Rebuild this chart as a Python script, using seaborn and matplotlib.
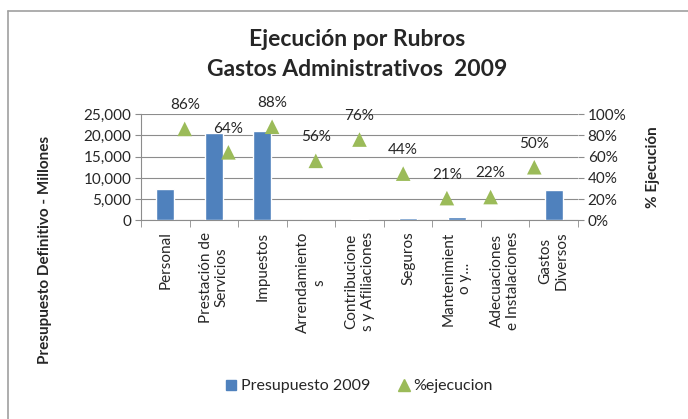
import matplotlib
matplotlib.use("Agg")
import matplotlib.pyplot as plt
import seaborn as sns
import numpy as np
import pandas as pd
from matplotlib.lines import Line2D

rubros = [
    "Personal",
    "Prestación de\nServicios",
    "Impuestos",
    "Arrendamiento\ns",
    "Contribucione\ns y Afiliaciones",
    "Seguros",
    "Mantenimient\no y...",
    "Adecuaciones\ne Instalaciones",
    "Gastos\nDiversos",
]
presupuesto = [7400, 20500, 21000, 0, 250, 600, 900, 0, 7200]
ejecucion = [0.86, 0.64, 0.88, 0.56, 0.76, 0.44, 0.21, 0.22, 0.50]
y_ticks = [0, 5000, 10000, 15000, 20000, 25000]
pct_ticks = [0, 0.2, 0.4, 0.6, 0.8, 1.0]

BLUE = "#4F81BD"
GREEN = "#9BBB59"
GRID = "#8c8c8c"

sns.set_style("white")
plt.rcParams["font.family"] = ["Lato", "DejaVu Sans"]

df = pd.DataFrame({"rubro": rubros, "presupuesto": presupuesto, "ejecucion": ejecucion})

fig = plt.figure(figsize=(6.88, 4.19), dpi=100)
ax = fig.add_axes([141 / 688, 1 - 220.5 / 419, 437 / 688, 106.5 / 419])

sns.barplot(data=df, x="rubro", y="presupuesto", color=BLUE, width=0.37,
            saturation=1, ax=ax, zorder=3)
ax.set_xlim(-0.5, len(rubros) - 0.5)
ax.set_ylim(0, 25000)
ax.set_yticks(y_ticks)
ax.set_yticklabels([f"{v:,.0f}" for v in y_ticks], fontsize=11)
ax.yaxis.grid(True, color=GRID, linewidth=0.8, zorder=0)
ax.set_xlabel("")
ax.set_ylabel("")
ax.set_xticks(np.arange(len(rubros)))
ax.set_xticklabels(rubros, rotation=90, ha="center", va="top",
                   multialignment="center", fontsize=11)
ax.tick_params(axis="x", length=0, pad=8)
# boundary tick marks between categories
ax.set_xticks(np.arange(-0.5, len(rubros)), minor=True)
ax.tick_params(axis="x", which="minor", length=5, color=GRID, direction="out", bottom=True)
ax.tick_params(axis="y", length=4, color=GRID, direction="out", left=True, pad=3)
for side in ["top", "right"]:
    ax.spines[side].set_visible(False)
for side in ["left", "bottom"]:
    ax.spines[side].set_color(GRID)
    ax.spines[side].set_linewidth(0.8)

# secondary axis for percentage
ax2 = fig.add_axes(ax.get_position(), frameon=False)
ax2.set_xlim(-1, len(rubros))
ax2.set_ylim(0, 1)
sns.scatterplot(x=np.arange(len(rubros)), y=ejecucion, marker="^", s=110,
                color=GREEN, edgecolor="none", ax=ax2, zorder=4, clip_on=False)
for i, v in enumerate(ejecucion):
    ax2.annotate(f"{v:.0%}", (i, v), xytext=(0, 17), textcoords="offset points",
                 ha="center", va="center", fontsize=11)
ax2.set_xticks([])
ax2.yaxis.tick_right()
ax2.set_yticks(pct_ticks)
ax2.set_yticklabels([f"{v:.0%}" for v in pct_ticks], fontsize=11)
ax2.tick_params(axis="y", length=4, color=GRID, direction="out", right=True, pad=3)
ax2.spines["right"].set_visible(True)
ax2.spines["right"].set_color(GRID)
ax2.spines["right"].set_linewidth(0.8)
ax2.set_ylabel("% Ejecución", fontsize=11, fontweight="bold", labelpad=14)
ax2.yaxis.set_label_position("right")

fig.text(45 / 688, 1 - 250 / 419, "Presupuesto Definitivo - Millones", rotation=90,
         ha="center", va="center", fontsize=11, fontweight="bold")

fig.text(357 / 688, 1 - 39 / 419, "Ejecución por Rubros", ha="center", va="center",
         fontsize=16.5, fontweight="bold")
fig.text(357 / 688, 1 - 69 / 419, "Gastos Administrativos  2009", ha="center",
         va="center", fontsize=16.5, fontweight="bold")

handles = [
    Line2D([], [], marker="s", linestyle="none", color=BLUE, markersize=7),
    Line2D([], [], marker="^", linestyle="none", color=GREEN, markersize=8),
]
fig.legend(handles, ["Presupuesto 2009", "%ejecucion"], loc="center",
           bbox_to_anchor=(358 / 688, 1 - 386 / 419), ncol=2, frameon=False,
           fontsize=11.5, handletextpad=0.1, columnspacing=1.6, handlelength=1.0)

# chart border (top and left edges visible)
fig.add_artist(Line2D([8 / 688, 8 / 688], [0, 1 - 11 / 419], transform=fig.transFigure,
                      color="#a0a0a0", linewidth=1.2))
fig.add_artist(Line2D([8 / 688, 1], [1 - 11 / 419, 1 - 11 / 419], transform=fig.transFigure,
                      color="#a0a0a0", linewidth=1.2))

fig.savefig("out.png", dpi=100)
